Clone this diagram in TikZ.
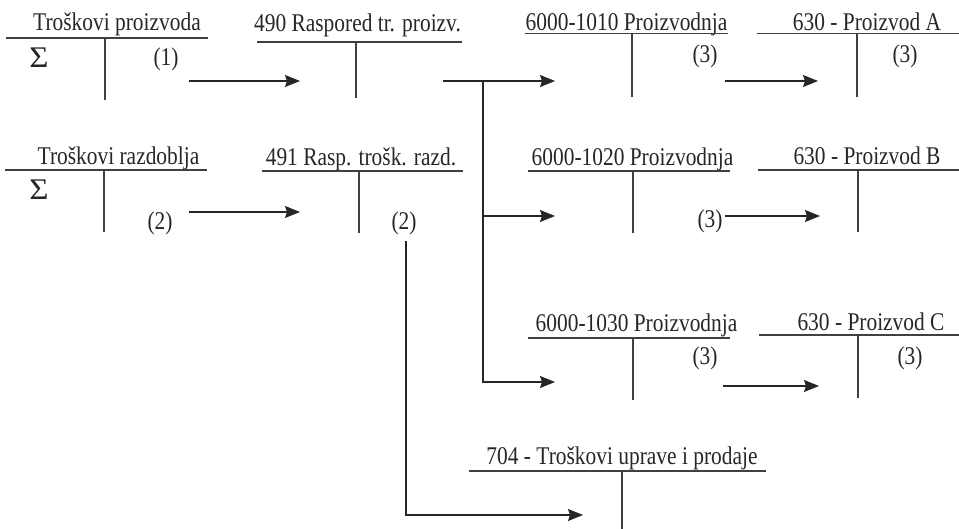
\documentclass[tikz,border=0pt]{standalone}
\usepackage{fontspec}
\setmainfont{Liberation Serif}[FakeStretch=0.84]
\newfontfamily\sigfont{Liberation Serif}[FakeStretch=1.1]
\usetikzlibrary{arrows.meta}
\begin{document}
\begin{tikzpicture}[x=1pt,y=-1pt,
  every node/.style={inner sep=0pt,outer sep=0pt,font=\fontsize{25.5pt}{30pt}\selectfont,text=black!85},
  title/.style={anchor=base},
  lbl/.style={anchor=base},
  sig/.style={anchor=base,font=\fontsize{30pt}{34pt}\sigfont},
  tline/.style={line width=1.2pt,draw=black!75},
  arr/.style={line width=1.2pt,draw=black!85,-{Stealth[length=15pt,width=12pt,inset=2pt]}}]
\useasboundingbox (0,0) rectangle (959,529);

% --- T-accounts ---
\node[title] (t1) at (117,31) {Troškovi proizvoda};
\draw[tline] (6,38) -- (208,38) (105,38) -- (105,100);
\node[sig] (s1) at (39,68) {Σ};
\node[lbl] (l1) at (166,65.5) {(1)};

\node[title] (t2) at (357.5,32) {490 Raspored tr. proizv.};
\draw[tline] (257,42) -- (462,42) (356,42) -- (356,98);

\node[title] (t3) at (626.5,31) {6000-1010 Proizvodnja};
\draw[tline] (525,33.5) -- (728,33.5) (632,33.5) -- (632,97);
\node[lbl] (l3a) at (705,62.5) {(3)};

\node[title] (t4) at (867,31) {630 - Proizvod A};
\draw[tline] (757,33.5) -- (959,33.5) (857,33.5) -- (857,97);
\node[lbl] (l3b) at (905,62.5) {(3)};

\node[title] (t5) at (118.5,165) {Troškovi razdoblja};
\draw[tline] (5,170) -- (207,170) (104,170) -- (104,232);
\node[sig] (s2) at (39,200) {Σ};
\node[lbl] (l2a) at (160,230) {(2)};

\node[title] (t6) at (361,166) {491 Rasp. trošk. razd.};
\draw[tline] (262,171) -- (463,171) (359,171) -- (359,233);
\node[lbl] (l2b) at (404,230) {(2)};

\node[title] (t7) at (632.5,166) {6000-1020 Proizvodnja};
\draw[tline] (528,171) -- (730,171) (633,171) -- (633,233);
\node[lbl] (l3c) at (710,228) {(3)};

\node[title] (t8) at (867,165) {630 - Proizvod B};
\draw[tline] (758,170) -- (959,170) (858,170) -- (858,232);

\node[title] (t9) at (636.5,332) {6000-1030 Proizvodnja};
\draw[tline] (528,338) -- (730,338) (633,338) -- (633,400);
\node[lbl] (l3d) at (705,365) {(3)};

\node[title] (t10) at (871,331) {630 - Proizvod C};
\draw[tline] (759,335) -- (959,335) (858,335) -- (858,398);
\node[lbl] (l3e) at (910,365) {(3)};

\node[title] (t11) at (622,464) {704 - Troškovi uprave i prodaje};
\draw[tline] (469,471) -- (766,471) (622,471) -- (622,529);

% --- connector points ---
\coordinate (a1s) at (189,81);  \coordinate (a1e) at (300,81);
\coordinate (a2s) at (443,81);  \coordinate (a2e) at (555,81);
\coordinate (bj)  at (483,81);
\coordinate (a3s) at (725,81);  \coordinate (a3e) at (818,81);
\coordinate (b1s) at (189,212); \coordinate (b1e) at (300,212);
\coordinate (b2e) at (555,216);
\coordinate (b3s) at (725,216); \coordinate (b3e) at (820,216);
\coordinate (c2e) at (555,382);
\coordinate (c3s) at (723,386); \coordinate (c3e) at (819,386);
\coordinate (ds)  at (406,241); \coordinate (de)  at (583,515);

% --- connectors ---
\draw[arr] (a1s) -- (a1e);
\draw[arr] (a2s) -- (a2e);
\draw[arr] (bj) |- (b2e);
\draw[arr] (bj) |- (c2e);
\draw[arr] (a3s) -- (a3e);
\draw[arr] (b1s) -- (b1e);
\draw[arr] (b3s) -- (b3e);
\draw[arr] (c3s) -- (c3e);
\draw[arr] (ds) |- (de);
\end{tikzpicture}
\end{document}
